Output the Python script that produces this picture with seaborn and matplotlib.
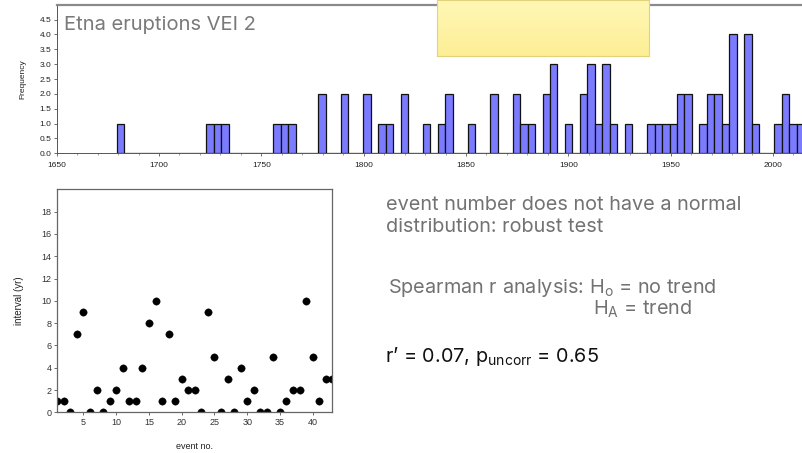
import numpy as np
import pandas as pd
import matplotlib
matplotlib.use("Agg")
import matplotlib.pyplot as plt
import seaborn as sns
from matplotlib.colors import LinearSegmentedColormap

# ---------------- data ----------------
# histogram bins (centre year of each occupied bin) and eruption counts
bin_years = [1681.1, 1724.9, 1728.5, 1732.2, 1757.8, 1761.4, 1765.1, 1779.7,
             1790.6, 1801.6, 1808.9, 1812.5, 1819.8, 1830.8, 1838.1, 1841.7,
             1852.7, 1863.7, 1874.6, 1878.3, 1881.9, 1889.2, 1892.9, 1900.2,
             1907.5, 1911.1, 1914.8, 1918.4, 1922.1, 1929.4, 1940.4, 1944.0,
             1947.7, 1951.3, 1955.0, 1958.6, 1965.9, 1969.6, 1973.2, 1976.9,
             1980.5, 1987.8, 1991.5, 2002.4, 2006.1, 2009.7, 2013.4]
bin_counts = [1, 1, 1, 1, 1, 1, 1, 2,
              2, 2, 1, 1, 2, 1, 1, 2,
              1, 2, 2, 1, 1, 2, 3, 1,
              2, 3, 1, 3, 1, 1, 1, 1,
              1, 1, 2, 2, 1, 2, 2, 1,
              4, 4, 1, 1, 2, 1, 1]

# scatter: event number vs repose interval
event_no = list(range(1, 44))
interval = [1, 1, 0, 7, 9, 0, 2, 0, 1, 2,
            4, 1, 1, 4, 8, 10, 1, 7, 1, 3,
            2, 2, 0, 9, 5, 0, 3, 0, 4, 1,
            2, 0, 0, 5, 0, 1, 2, 2, 10, 5,
            1, 3, 3]

hist_title = "Etna eruptions VEI 2"
note_lines = ["event number does not have a normal",
              "distribution: robust test"]
spearman_h0 = r"Spearman r analysis: H$_{\mathrm{o}}$ = no trend"
spearman_ha = r"H$_{\mathrm{A}}$ = trend"
result_text = r"r’ = 0.07, p$_{\mathrm{uncorr}}$ = 0.65"

# ---------------- style ----------------
sns.set_style("ticks")
plt.rcParams['font.family'] = ['Liberation Sans', 'DejaVu Sans']
plt.rcParams['mathtext.fontset'] = 'custom'
plt.rcParams['mathtext.rm'] = 'Inter'
plt.rcParams['mathtext.it'] = 'Inter:italic'
plt.rcParams['mathtext.bf'] = 'Inter:bold'
big_font = ['Inter', 'Liberation Sans', 'DejaVu Sans']

W, H = 802, 453
fig = plt.figure(figsize=(W / 100, H / 100), dpi=100)


def fig_rect(x0, y0, x1, y1):
    """pixel box (top-left origin) -> figure fraction rect"""
    return [x0 / W, 1 - y1 / H, (x1 - x0) / W, (y1 - y0) / H]


# ---------------- histogram ----------------
axh = fig.add_axes(fig_rect(56.7, 4.7, 802, 153.3))
hist_df = pd.DataFrame({"year": bin_years, "count": bin_counts})
binw = 3.652
sns.histplot(data=hist_df, x="year", weights="count", binwidth=binw,
             binrange=(1679.23, 1679.23 + 92 * binw), ax=axh,
             color="#7b7bff", alpha=1.0, edgecolor="#111111", linewidth=0.9)
axh.set_xlim(1650, 2014.2)
axh.set_ylim(0, 5)
axh.set_yticks(np.arange(0, 4.51, 0.5))
axh.set_yticklabels([f"{v:.1f}" for v in np.arange(0, 4.51, 0.5)])
axh.set_xticks(np.arange(1650, 2001, 50))
axh.set_xticks(np.arange(1650, 2011, 10), minor=True)
axh.set_xlabel("")
axh.set_ylabel("Frequency", fontsize=6, color="#222222", labelpad=9)
axh.tick_params(axis="both", labelsize=6, length=2.5, width=0.6,
                color="#555555", labelcolor="#222222", pad=1.5)
axh.tick_params(axis="x", pad=3.5)
axh.tick_params(axis="x", which="minor", length=1.2, width=0.5, color="#777777")
axh.spines["right"].set_visible(False)
axh.spines["top"].set_color("#8a8a8a")
axh.spines["top"].set_linewidth(1.6)
for side in ["left", "bottom"]:
    axh.spines[side].set_color("#555555")
    axh.spines[side].set_linewidth(0.7)
axh.text(64 / W, 1 - 30 / H, hist_title, transform=fig.transFigure,
         fontsize=14.5, color="#7a7a7a", ha="left", va="baseline",
         family=big_font)

# ---------------- sticky note ----------------
axn = fig.add_axes(fig_rect(437.3, 0, 649.3, 56))
grad = np.linspace(0, 1, 50).reshape(-1, 1)
cmap = LinearSegmentedColormap.from_list("note", ["#fff7b5", "#fdee96"])
axn.imshow(grad, aspect="auto", cmap=cmap, extent=[0, 1, 0, 1], origin="upper")
axn.set_xlim(0, 1)
axn.set_ylim(0, 1)
axn.set_xticks([])
axn.set_yticks([])
for s in axn.spines.values():
    s.set_color("#e3d27a")
    s.set_linewidth(0.8)
axn.set_zorder(5)

# ---------------- scatter ----------------
axs = fig.add_axes(fig_rect(57.3, 189.3, 332.3, 412.3))
sc_df = pd.DataFrame({"event": event_no, "interval": interval})
sns.scatterplot(data=sc_df, x="event", y="interval", ax=axs,
                color="black", s=28, edgecolor="black", linewidth=0.3)
axs.set_xlim(1, 43)
axs.set_ylim(0, 20)
axs.set_xticks(np.arange(5, 41, 5))
axs.set_yticks(np.arange(0, 19, 2))
axs.set_xlabel("event no.", fontsize=6.5, color="#222222", labelpad=11)
axs.set_ylabel("interval (yr)", fontsize=7, color="#222222", labelpad=13)
axs.tick_params(axis="both", labelsize=6.5, length=2.5, width=0.6,
                color="#555555", labelcolor="#333333", pad=1.5)
for s in axs.spines.values():
    s.set_visible(True)
    s.set_color("#666666")
    s.set_linewidth(0.9)

# ---------------- annotations ----------------
gray = "#727272"
fs = 14.3
fig.text(386 / W, 1 - 205 / H, note_lines[0], fontsize=fs, color=gray,
         ha="left", va="center", family=big_font)
fig.text(386 / W, 1 - 227 / H, note_lines[1], fontsize=fs, color=gray,
         ha="left", va="center", family=big_font)
fig.text(388 / W, 1 - 288 / H, spearman_h0, fontsize=fs, color=gray,
         ha="left", va="center", family=big_font)
fig.text(593 / W, 1 - 309 / H, spearman_ha, fontsize=fs, color=gray,
         ha="left", va="center", family=big_font)
fig.text(385 / W, 1 - 357 / H, result_text, fontsize=fs, color="#111111",
         ha="left", va="center", family=big_font)

fig.savefig("out.png", dpi=100)
